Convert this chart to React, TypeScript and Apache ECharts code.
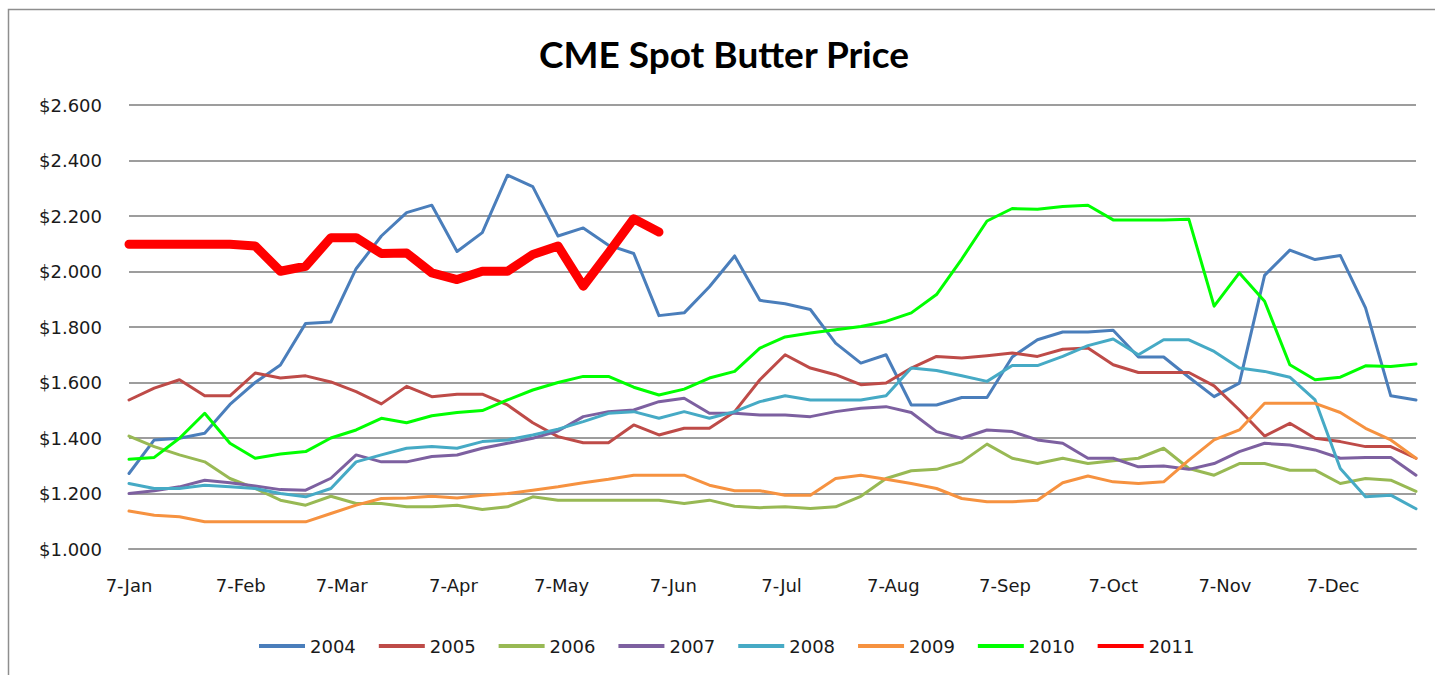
import React, { useEffect, useRef } from "react";
import * as echarts from "echarts";

// x positions: days after 7-Jan for each weekly price (Fridays)
const weekDays = [0, 7, 14, 21, 28, 35, 42, 49, 56, 63, 70, 77, 84, 91, 98, 105, 112, 119, 126, 133, 140, 147, 154, 161, 168, 175, 182, 189, 196, 203, 210, 217, 224, 231, 238, 245, 252, 259, 266, 273, 280, 287, 294, 301, 308, 315, 322, 329, 336, 343, 350, 357];

// tick labels (7th of each month) and their day offsets after 7-Jan
const tickLabels = ["7-Jan", "7-Feb", "7-Mar", "7-Apr", "7-May", "7-Jun", "7-Jul", "7-Aug", "7-Sep", "7-Oct", "7-Nov", "7-Dec"];
const tickDays = [0, 31, 59, 90, 120, 151, 181, 212, 243, 273, 304, 334];

const yearNames = ["2004", "2005", "2006", "2007", "2008", "2009", "2010", "2011"];

const y2004 = [1.272, 1.393, 1.399, 1.417, 1.521, 1.600, 1.663, 1.813, 1.818, 2.010, 2.128, 2.212, 2.239, 2.072, 2.140, 2.347, 2.306, 2.128, 2.157, 2.095, 2.065, 1.841, 1.851, 1.945, 2.056, 1.896, 1.884, 1.863, 1.742, 1.670, 1.700, 1.519, 1.519, 1.546, 1.546, 1.692, 1.754, 1.782, 1.782, 1.788, 1.692, 1.692, 1.619, 1.549, 1.598, 1.986, 2.077, 2.043, 2.058, 1.869, 1.552, 1.537];
const y2005 = [1.537, 1.580, 1.610, 1.552, 1.552, 1.634, 1.616, 1.624, 1.602, 1.567, 1.523, 1.586, 1.549, 1.558, 1.558, 1.519, 1.455, 1.405, 1.383, 1.383, 1.447, 1.411, 1.435, 1.435, 1.495, 1.610, 1.700, 1.652, 1.628, 1.592, 1.598, 1.652, 1.694, 1.688, 1.696, 1.706, 1.694, 1.720, 1.724, 1.664, 1.636, 1.636, 1.636, 1.588, 1.501, 1.407, 1.453, 1.399, 1.387, 1.369, 1.369, 1.327];
const y2006 = [1.407, 1.369, 1.339, 1.314, 1.254, 1.218, 1.176, 1.158, 1.190, 1.164, 1.164, 1.152, 1.152, 1.158, 1.142, 1.152, 1.188, 1.176, 1.176, 1.176, 1.176, 1.176, 1.164, 1.176, 1.154, 1.149, 1.152, 1.146, 1.152, 1.190, 1.254, 1.282, 1.287, 1.314, 1.378, 1.327, 1.308, 1.327, 1.308, 1.318, 1.327, 1.363, 1.290, 1.266, 1.308, 1.308, 1.284, 1.284, 1.236, 1.254, 1.248, 1.208];
const y2007 = [1.200, 1.210, 1.224, 1.248, 1.239, 1.227, 1.214, 1.212, 1.255, 1.339, 1.314, 1.314, 1.333, 1.339, 1.363, 1.381, 1.399, 1.425, 1.477, 1.495, 1.501, 1.531, 1.543, 1.489, 1.489, 1.483, 1.483, 1.477, 1.495, 1.507, 1.513, 1.492, 1.423, 1.399, 1.429, 1.423, 1.393, 1.381, 1.327, 1.327, 1.296, 1.299, 1.287, 1.308, 1.351, 1.381, 1.375, 1.357, 1.327, 1.330, 1.330, 1.266];
const y2008 = [1.236, 1.218, 1.218, 1.230, 1.224, 1.218, 1.200, 1.188, 1.218, 1.314, 1.339, 1.363, 1.369, 1.363, 1.387, 1.393, 1.411, 1.432, 1.459, 1.489, 1.495, 1.471, 1.495, 1.471, 1.495, 1.531, 1.552, 1.537, 1.537, 1.537, 1.552, 1.652, 1.643, 1.624, 1.604, 1.661, 1.661, 1.694, 1.733, 1.757, 1.700, 1.754, 1.754, 1.712, 1.652, 1.640, 1.619, 1.537, 1.290, 1.188, 1.194, 1.145];
const y2009 = [1.137, 1.122, 1.116, 1.098, 1.098, 1.098, 1.098, 1.098, 1.128, 1.158, 1.182, 1.184, 1.190, 1.184, 1.194, 1.200, 1.212, 1.224, 1.239, 1.251, 1.266, 1.266, 1.266, 1.230, 1.210, 1.210, 1.194, 1.194, 1.254, 1.266, 1.251, 1.236, 1.218, 1.182, 1.170, 1.170, 1.176, 1.239, 1.263, 1.242, 1.236, 1.242, 1.320, 1.393, 1.429, 1.525, 1.525, 1.525, 1.492, 1.435, 1.393, 1.327];
const y2010 = [1.323, 1.330, 1.399, 1.489, 1.381, 1.327, 1.342, 1.351, 1.400, 1.429, 1.471, 1.455, 1.480, 1.492, 1.499, 1.537, 1.573, 1.600, 1.622, 1.622, 1.583, 1.555, 1.576, 1.616, 1.640, 1.724, 1.764, 1.778, 1.790, 1.802, 1.820, 1.851, 1.917, 2.045, 2.182, 2.227, 2.224, 2.234, 2.239, 2.186, 2.186, 2.186, 2.188, 1.875, 1.995, 1.893, 1.664, 1.610, 1.619, 1.660, 1.658, 1.667];
const y2011 = [2.098, 2.098, 2.098, 2.098, 2.098, 2.092, 2.001, 2.019, 2.122, 2.122, 2.065, 2.067, 1.995, 1.971, 2.001, 2.001, 2.061, 2.092, 1.947, 2.067, 2.190, 2.142];

const yearValues = [y2004, y2005, y2006, y2007, y2008, y2009, y2010, y2011];
const yearColors = ["#4A7EBB", "#BE4B48", "#98B954", "#7D60A0", "#46AAC5", "#F69240", "#00FF00", "#FF0000"];
const yearWidths = [3, 3, 3, 3, 3, 3, 3, 9];

const LABEL_FONT = "'DejaVu Sans', sans-serif";
const TITLE_FONT = "Lato, 'Open Sans', sans-serif";

export default function App() {
  const ref = useRef<HTMLDivElement>(null);
  useEffect(() => {
    if (!ref.current) return;
    const chart = echarts.init(ref.current, undefined, { renderer: "svg" });
    const series = yearNames.map((name, k) => ({
      name,
      type: "line",
      data: yearValues[k].map((v, i) => [weekDays[i], v]),
      showSymbol: false,
      symbol: "none",
      lineStyle: { color: yearColors[k], width: yearWidths[k], cap: "round", join: "round" },
      itemStyle: { color: yearColors[k] },
      z: 2 + k,
    }));
    chart.setOption({
      animation: false,
      backgroundColor: "#ffffff",
      graphic: [
        {
          type: "rect",
          shape: { x: 8.5, y: 9.5, width: 1460, height: 700 },
          style: { fill: "none", stroke: "#8e8e8e", lineWidth: 1.5 },
          silent: true,
        },
        {
          type: "text",
          x: 724,
          y: 53,
          style: {
            text: "CME Spot Butter Price",
            align: "center",
            verticalAlign: "middle",
            fontFamily: TITLE_FONT,
            fontWeight: "bold",
            fontSize: 37,
            fill: "#000000",
          },
        },
      ],
      grid: { left: 129, right: 19, top: 105, bottom: 126, containLabel: false },
      legend: {
        data: yearNames,
        left: 259,
        top: 637,
        padding: 0,
        icon: "rect",
        itemWidth: 46,
        itemHeight: 4,
        itemGap: 23,
        textStyle: { fontFamily: LABEL_FONT, fontSize: 18, color: "#1a1a1a" },
      },
      xAxis: {
        type: "value",
        min: 0,
        max: 357,
        splitLine: { show: false },
        axisLine: { show: true, lineStyle: { color: "#9d9d9d", width: 2 } },
        axisTick: { show: false },
        axisLabel: {
          customValues: tickDays,
          margin: 27,
          fontFamily: LABEL_FONT,
          fontSize: 18,
          color: "#1a1a1a",
          formatter: (v: number) => {
            const idx = tickDays.indexOf(Math.round(v));
            return idx >= 0 ? tickLabels[idx] : "";
          },
        },
      },
      yAxis: {
        type: "value",
        min: 1.0,
        max: 2.6,
        interval: 0.2,
        axisLine: { show: false },
        axisTick: { show: false },
        splitLine: { show: true, lineStyle: { color: "#9d9d9d", width: 2 } },
        axisLabel: {
          margin: 27,
          fontFamily: LABEL_FONT,
          fontSize: 18,
          color: "#1a1a1a",
          formatter: (v: number) => "$" + v.toFixed(3),
        },
      },
      series,
    });
    return () => chart.dispose();
  }, []);
  return (
    <div
      ref={ref}
      style={{ position: "absolute", left: 0, top: 0, width: 1435, height: 675, background: "#fff" }}
    />
  );
}
